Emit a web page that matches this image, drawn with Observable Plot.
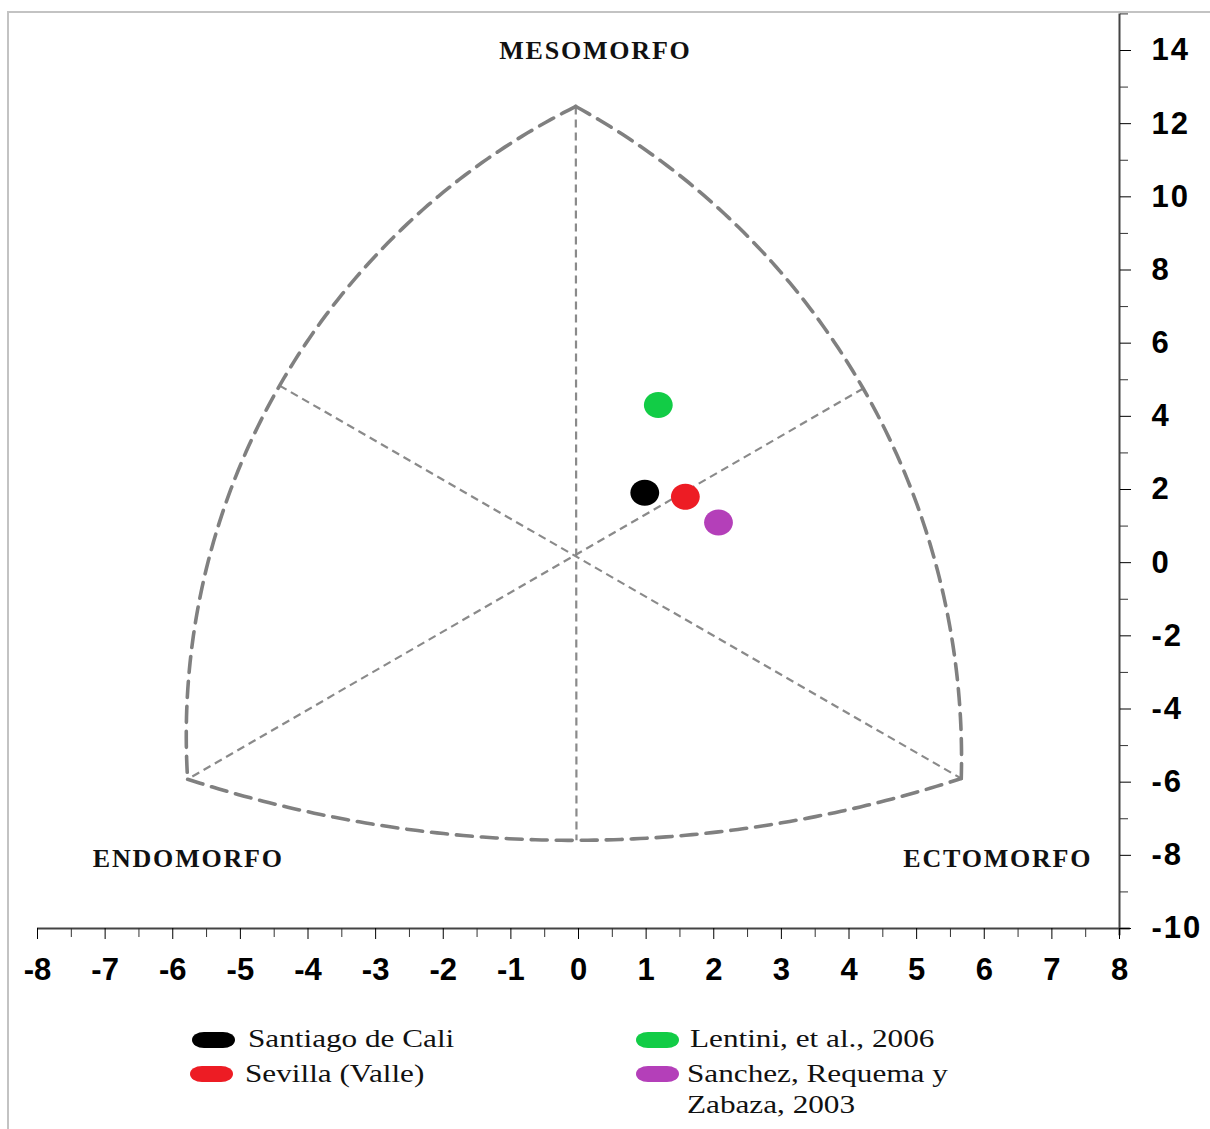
<!DOCTYPE html>
<html><head><meta charset="utf-8">
<script src="https://cdn.jsdelivr.net/npm/d3@7"></script>
<script src="https://cdn.jsdelivr.net/npm/@observablehq/plot@0.6"></script>
<style>
html,body{margin:0;padding:0;background:#fff;}
#wrap{position:relative;width:1210px;height:1129px;overflow:hidden;background:#fff;}
#frame{position:absolute;left:7px;top:11px;width:1220px;height:1140px;border-top:2px solid #c3c3c3;border-left:2px solid #c3c3c3;}
#chart{position:absolute;left:0;top:0;}
.sw{position:absolute;width:43px;height:16px;border-radius:12px/8px;}
.lt{position:absolute;font-family:"Liberation Serif","Times New Roman",serif;font-size:26px;line-height:31px;color:#111;transform:scaleX(1.2);transform-origin:0 0;width:232px;}
</style></head>
<body><div id="wrap"><div id="frame"></div><div id="chart"></div><div id="legend"></div></div>
<script>
// ---- data ----
const seriesNames = ["Santiago de Cali", "Sevilla (Valle)", "Lentini, et al., 2006", "Sanchez, Requema y Zabaza, 2003"];
const seriesX = [0.98, 1.58, 1.18, 2.07];
const seriesY = [1.91, 1.80, 4.31, 1.10];
const seriesColors = ["#000000", "#ed1c24", "#12cc46", "#b43fb9"];

// somatochart frame: vertices (mesomorfo apex, endomorfo corner, ectomorfo corner)
const vertexX = [-0.04, -5.78, 5.66];
const vertexY = [12.47, -5.92, -5.90];
// mid points of the arcs (left, right, bottom)
const arcMidX = [-4.42, 4.21, -0.03];
const arcMidY = [4.84, 4.76, -7.59];

const labelNames = ["MESOMORFO", "ENDOMORFO", "ECTOMORFO"];
const labelX = [0.25, -5.77, 6.2];
const labelY = [14.0, -8.09, -8.09];

const xMajorTicks = d3.range(-8, 9, 1);
const xMinorTicks = d3.range(-7.5, 8, 1);
const yMajorTicks = d3.range(-10, 15, 2);
const yMinorTicks = d3.range(-9, 16, 2);

// ---- layout ----
const W = 1210, H = 1005, mL = 37, mR = 91, mT = 50, mB = 77;
const xDomain = [-8, 8], yDomain = [-10, 14];
const kx = (W - mL - mR) / (xDomain[1] - xDomain[0]);
const ky = (H - mT - mB) / (yDomain[1] - yDomain[0]);

function arcPoints(p0, p1, p2, id, n = 120) {
  const P = [p0, p1, p2].map(([x, y]) => [x * kx, y * ky]);
  const [[ax, ay], [bx, by], [cx, cy]] = P;
  const d = 2 * (ax * (by - cy) + bx * (cy - ay) + cx * (ay - by));
  const ux = ((ax*ax+ay*ay)*(by-cy) + (bx*bx+by*by)*(cy-ay) + (cx*cx+cy*cy)*(ay-by)) / d;
  const uy = ((ax*ax+ay*ay)*(cx-bx) + (bx*bx+by*by)*(ax-cx) + (cx*cx+cy*cy)*(bx-ax)) / d;
  const R = Math.hypot(ax - ux, ay - uy);
  const ang = ([x, y]) => Math.atan2(y - uy, x - ux);
  const norm = a => ((a % (2*Math.PI)) + 2*Math.PI) % (2*Math.PI);
  const a0 = ang(P[0]), a1 = ang(P[1]), a2 = ang(P[2]);
  let sweep = norm(a2 - a0);
  if (norm(a1 - a0) > sweep) sweep -= 2*Math.PI;
  return d3.range(n + 1).map(i => {
    const a = a0 + sweep * i / n;
    return {id, x: (ux + R*Math.cos(a)) / kx, y: (uy + R*Math.sin(a)) / ky};
  });
}

const V = vertexX.map((x, i) => [x, vertexY[i]]);
const M = arcMidX.map((x, i) => [x, arcMidY[i]]);
const arcs = [
  ...arcPoints(V[0], M[0], V[1], "left"),
  ...arcPoints(V[0], M[1], V[2], "right"),
  ...arcPoints(V[1], M[2], V[2], "bottom")
];
const axesLines = [
  {x1: V[0][0], y1: V[0][1], x2: M[2][0], y2: M[2][1]},
  {x1: M[0][0], y1: M[0][1], x2: V[2][0], y2: V[2][1]},
  {x1: M[1][0], y1: M[1][1], x2: V[1][0], y2: V[1][1]}
];

const points = seriesNames.map((name, i) => ({name, x: seriesX[i], y: seriesY[i]}));
const labels = labelNames.map((t, i) => ({t, x: labelX[i], y: labelY[i]}));

const ellipse = {
  draw(ctx, size) {
    const r = Math.sqrt(size / Math.PI), rx = r * 1.11, ry = r, k = 0.5523;
    ctx.moveTo(rx, 0);
    ctx.bezierCurveTo(rx, ry*k, rx*k, ry, 0, ry);
    ctx.bezierCurveTo(-rx*k, ry, -rx, ry*k, -rx, 0);
    ctx.bezierCurveTo(-rx, -ry*k, -rx*k, -ry, 0, -ry);
    ctx.bezierCurveTo(rx*k, -ry, rx, -ry*k, rx, 0);
    ctx.closePath();
  }
};

const sansBold = "Liberation Sans, Arial, sans-serif";

const chart = Plot.plot({
  width: W, height: H,
  marginLeft: mL, marginRight: mR, marginTop: mT, marginBottom: mB,
  style: {background: "transparent", overflow: "visible"},
  x: {domain: xDomain},
  y: {domain: yDomain},
  color: {domain: seriesNames, range: seriesColors},
  marks: [
    Plot.link(axesLines, {x1: "x1", y1: "y1", x2: "x2", y2: "y2", stroke: "#8a8a8a", strokeWidth: 2.2, strokeDasharray: "8,5"}),
    Plot.line(arcs, {x: "x", y: "y", z: "id", stroke: "#808080", strokeWidth: 3.6, strokeDasharray: "16,9"}),
    Plot.dot(points, {x: "x", y: "y", fill: "name", r: 13, symbol: ellipse, stroke: "none"}),
    Plot.text(labels, {x: "x", y: "y", text: "t", fontFamily: "Liberation Serif, Times New Roman, serif", fontWeight: "bold", fontSize: 26, fill: "#111"}),
    Plot.ruleY([yDomain[0]], {x1: xDomain[0], x2: 8.16, stroke: "#444", strokeWidth: 2}),
    Plot.ruleX([xDomain[1]], {y1: -10.2, y2: 15, stroke: "#444", strokeWidth: 2}),
    Plot.axisX(xMinorTicks, {anchor: "bottom", tickSize: 9, tickFormat: () => "", label: null, color: "#333"}),
    Plot.axisX(xMajorTicks, {anchor: "bottom", tickSize: 11, tickPadding: 18, tickFormat: d => String(d), label: null, color: "#000", fontSize: 31, fontWeight: "bold", fontFamily: sansBold}),
    Plot.axisY(yMinorTicks, {anchor: "right", tickSize: 8, tickFormat: () => "", label: null, color: "#333"}),
    Plot.axisY(yMajorTicks, {anchor: "right", tickSize: 11, tickPadding: 21, tickFormat: d => String(d), label: null, color: "#000", fontSize: 31, fontWeight: "bold", fontFamily: sansBold})
  ]
});
document.getElementById("chart").appendChild(chart);
chart.querySelectorAll('g[aria-label="text"] text').forEach(t => t.style.letterSpacing = "1.8px");
chart.querySelectorAll('g[aria-label="y-axis tick label"] text').forEach(t => t.style.letterSpacing = "2px");

// ---- legend (HTML, below the SVG) ----
const legendPos = [
  {sx: 192, sy: 1032, tx: 248, ty: 1023},
  {sx: 190, sy: 1066, tx: 245, ty: 1058},
  {sx: 636, sy: 1032, tx: 690, ty: 1023},
  {sx: 636, sy: 1066, tx: 687, ty: 1058}
];
const legend = document.getElementById("legend");
seriesNames.forEach((name, i) => {
  const p = legendPos[i];
  const sw = document.createElement("div");
  sw.className = "sw";
  sw.style.left = p.sx + "px"; sw.style.top = p.sy + "px";
  sw.style.background = seriesColors[i];
  legend.appendChild(sw);
  const t = document.createElement("div");
  t.className = "lt";
  t.style.left = p.tx + "px"; t.style.top = p.ty + "px";
  t.textContent = name;
  legend.appendChild(t);
});
</script></body></html>
